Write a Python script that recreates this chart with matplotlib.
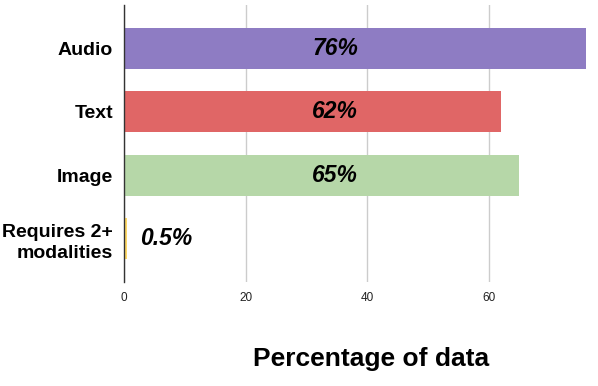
import matplotlib
matplotlib.use("Agg")
import matplotlib.pyplot as plt

plt.rcParams['font.family'] = ['Liberation Sans', 'DejaVu Sans']

# data
categories = ["Audio", "Text", "Image", "Requires 2+\nmodalities"]
percentages = [76, 62, 65, 0.5]
value_labels = ["76%", "62%", "65%", "0.5%"]
bar_colors = ["#8e7cc3", "#e06666", "#b6d7a8", "#ffd966"]
x_ticks = [0, 20, 40, 60]

fig = plt.figure(figsize=(5.98, 3.86), dpi=100)
ax = fig.add_axes([124 / 598, 1 - 282 / 386, 468.5 / 598, 277 / 386])

ypos = list(range(len(categories)))
ax.barh(ypos, percentages, height=0.645, color=bar_colors, zorder=3)

# value labels: inside long bars at a fixed spot, just right of short ones
for y, v, lab in zip(ypos, percentages, value_labels):
    lx = 30.9 if v > 10 else v + 2.2
    ax.text(lx, y, lab, ha='left', va='center', fontsize=16.5,
            fontweight='bold', fontstyle='italic', color='black', zorder=4)

ax.set_xlim(0, 77)
ax.set_ylim(3.68, -0.68)
ax.set_xticks(x_ticks)
ax.set_xticklabels([str(t) for t in x_ticks], fontsize=8.5, color='#222222')
ax.set_yticks(ypos)
ax.set_yticklabels(categories, fontsize=14, fontweight='bold', linespacing=1.3)
ax.tick_params(axis='both', length=0)
ax.tick_params(axis='x', pad=7)
ax.tick_params(axis='y', pad=8)

ax.grid(axis='x', color='#cccccc', linewidth=1, zorder=0)
for s in ['top', 'right', 'bottom']:
    ax.spines[s].set_visible(False)
ax.spines['left'].set_color('#333333')
ax.spines['left'].set_linewidth(1)
ax.spines['left'].set_zorder(5)

fig.text(371 / 598, 1 - 366 / 386, "Percentage of data", ha='center',
         va='baseline', fontsize=19, fontweight='bold')

fig.savefig("out.png", dpi=100)
